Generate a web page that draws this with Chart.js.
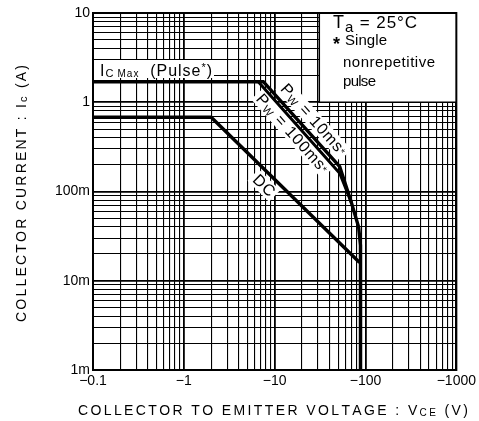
<!DOCTYPE html>
<html><head><meta charset="utf-8">
<script src="https://cdn.jsdelivr.net/npm/chart.js@4.4.1/dist/chart.umd.min.js"></script>
<style>html,body{margin:0;padding:0;background:#fff;}#wrap{width:479px;height:421px;}</style>
</head><body><div id="wrap"><canvas id="c" width="479" height="421"></canvas></div>
<script>
// ---- data (collector-emitter voltage in V, collector current in A) ----
const X_DECADES = [0.1, 1, 10, 100, 1000];
const X_TICK_LABELS = ['\u22120.1', '\u22121', '\u221210', '\u2212100', '\u22121000'];
const Y_DECADES = [0.001, 0.01, 0.1, 1, 10];
const Y_TICK_LABELS = ['1m', '10m', '100m', '1', '10'];
const MINOR_STEPS = [1, 2, 3, 4, 5, 6, 7, 8, 9];

const VCE_PULSE_10MS = [-0.1, -7.5, -52, -70, -84, -88, -88];
const IC_PULSE_10MS  = [1.7, 1.7, 0.19, 0.075, 0.04, 0.025, 0.001];
const VCE_PULSE_100MS = [-6.6, -52, -70];
const IC_PULSE_100MS  = [1.7, 0.16, 0.075];
const VCE_DC = [-0.1, -2.0, -86];
const IC_DC  = [0.68, 0.68, 0.016];

const FONT = '"Liberation Sans", Arial, Helvetica, sans-serif';

function pts(vs, is) { return vs.map((v, k) => ({ x: Math.abs(v), y: is[k] })); }
function gridTicks(decades) {
  const out = [];
  for (let d = 0; d < decades.length - 1; d++) MINOR_STEPS.forEach(m => out.push(+(decades[d] * m).toPrecision(6)));
  out.push(decades[decades.length - 1]);
  return out;
}
function decadeIndex(v, decades) {
  for (let k = 0; k < decades.length; k++) if (Math.abs(v / decades[k] - 1) < 1e-6) return k;
  return -1;
}

function drawRich(ctx, segs, x, y, opt) {
  const chars = [];
  segs.forEach(s => { for (const ch of s.t) chars.push({ ch, size: s.size, dy: s.dy || 0, bold: s.bold }); });
  let natural = 0;
  chars.forEach(c => { ctx.font = (c.bold ? 'bold ' : '') + c.size + 'px ' + FONT; c.w = ctx.measureText(c.ch).width; natural += c.w; });
  let sp = opt.spacing || 0;
  if (opt.width) sp = (opt.width - natural) / Math.max(1, chars.length - 1);
  const total = natural + sp * (chars.length - 1);
  let cx = opt.align === 'center' ? x - total / 2 : opt.align === 'right' ? x - total : x;
  ctx.textAlign = 'left'; ctx.textBaseline = 'alphabetic'; ctx.fillStyle = '#000';
  chars.forEach(c => { ctx.font = (c.bold ? 'bold ' : '') + c.size + 'px ' + FONT; ctx.fillText(c.ch, cx, y + c.dy); cx += c.w + sp; });
  return total;
}

function lineLabel(chart, vs, is, i0, t, offset, segs, width) {
  const xs = chart.scales.x, ys = chart.scales.y, ctx = chart.ctx;
  const ax = xs.getPixelForValue(Math.abs(vs[i0])), ay = ys.getPixelForValue(is[i0]);
  const bx = xs.getPixelForValue(Math.abs(vs[i0 + 1])), by = ys.getPixelForValue(is[i0 + 1]);
  const dx = bx - ax, dy = by - ay, len = Math.hypot(dx, dy);
  const ux = dx / len, uy = dy / len;
  const nx = uy, ny = -ux; // normal toward upper-right
  const cx = ax + dx * t + nx * offset, cy = ay + dy * t + ny * offset;
  ctx.save();
  ctx.translate(cx, cy);
  ctx.rotate(Math.atan2(dy, dx));
  ctx.fillStyle = '#fff';
  ctx.fillRect(-width / 2 - 3, -8, width + 6, 16);
  drawRich(ctx, segs, 0, 5, { align: 'center', width });
  ctx.restore();
}

const annot = {
  id: 'annot',
  beforeDatasetsDraw(chart) {
    const ctx = chart.ctx, a = chart.chartArea, xs = chart.scales.x, ys = chart.scales.y;
    ctx.save();
    // I_C max label box
    ctx.fillStyle = '#fff';
    ctx.fillRect(a.left, 60, 214 - a.left, 18);
    drawRich(ctx, [{ t: 'I', size: 16 }, { t: 'C', size: 11, dy: 1 }, { t: ' ', size: 8 }, { t: 'Max', size: 10, dy: 1 }, { t: '  (Pulse', size: 16 }, { t: '*', size: 11, dy: -5 }, { t: ')', size: 16 }], 100, 76, { width: 112 });
    // legend box
    const lx = xs.getPixelForValue(31), by = ys.getPixelForValue(1.0);
    ctx.fillStyle = '#fff';
    ctx.fillRect(lx, a.top, a.right - lx, by - a.top);
    ctx.strokeStyle = '#000'; ctx.lineWidth = 1.5;
    ctx.beginPath(); ctx.moveTo(lx, a.top); ctx.lineTo(lx, by); ctx.lineTo(a.right, by); ctx.stroke();
    drawRich(ctx, [{ t: 'T', size: 18 }, { t: 'a', size: 15, dy: 4 }, { t: ' = 25\u00b0C', size: 17 }], 333, 28, { width: 84 });
    drawRich(ctx, [{ t: '*', size: 18, bold: true }], 333, 50, {});
    drawRich(ctx, [{ t: 'Single', size: 15 }], 345, 45, { width: 42 });
    drawRich(ctx, [{ t: 'nonrepetitive', size: 15 }], 343, 67, { width: 92 });
    drawRich(ctx, [{ t: 'pulse', size: 15 }], 343, 86, { width: 33 });
    // line labels
    lineLabel(chart, VCE_PULSE_10MS, IC_PULSE_10MS, 1, 0.54, 12,
      [{ t: 'P', size: 16 }, { t: 'W', size: 11, dy: 2 }, { t: ' = 10ms', size: 16 }, { t: '*', size: 10, dy: -1 }], 90);
    lineLabel(chart, VCE_PULSE_100MS, IC_PULSE_100MS, 0, 0.5, -9,
      [{ t: 'P', size: 16 }, { t: 'W', size: 11, dy: 2 }, { t: ' = 100ms', size: 16 }, { t: '*', size: 10, dy: -1 }], 100);
    // DC label anchored on the DC slope
    const dcT = (Math.log10(9.4) - Math.log10(2.0)) / (Math.log10(86) - Math.log10(2.0));
    lineLabel(chart, VCE_DC, IC_DC, 1, dcT, -12, [{ t: 'DC', size: 16 }], 24);
    ctx.restore();
  },
  afterDatasetsDraw(chart) {
    const ctx = chart.ctx, a = chart.chartArea;
    ctx.save();
    ctx.strokeStyle = '#000'; ctx.lineWidth = 2;
    ctx.strokeRect(a.left, a.top, a.right - a.left, a.bottom - a.top);
    ctx.restore();
  },
  afterDraw(chart) {
    const ctx = chart.ctx;
    ctx.save();
    drawRich(ctx, [{ t: 'COLLECTOR TO EMITTER VOLTAGE : V', size: 14 }, { t: 'CE', size: 10, dy: 1 }, { t: ' (V)', size: 14 }], 273, 415, { align: 'center', width: 390 });
    ctx.translate(21, 193.5);
    ctx.rotate(-Math.PI / 2);
    drawRich(ctx, [{ t: 'COLLECTOR CURRENT : I', size: 14 }, { t: 'c', size: 11, dy: 1 }, { t: ' (A)', size: 14 }], 0, 5, { align: 'center', width: 257 });
    ctx.restore();
  }
};

const lineStyle = { borderColor: '#000', backgroundColor: '#000', pointRadius: 0, fill: false, tension: 0, borderJoinStyle: 'miter', borderCapStyle: 'butt' };

new Chart(document.getElementById('c'), {
  type: 'line',
  data: {
    datasets: [
      Object.assign({ label: 'Pw = 10ms', data: pts(VCE_PULSE_10MS, IC_PULSE_10MS), borderWidth: 3.4 }, lineStyle),
      Object.assign({ label: 'Pw = 100ms', data: pts(VCE_PULSE_100MS, IC_PULSE_100MS), borderWidth: 3 }, lineStyle),
      Object.assign({ label: 'DC', data: pts(VCE_DC, IC_DC), borderWidth: 3.4 }, lineStyle)
    ]
  },
  options: {
    responsive: false, animation: false, devicePixelRatio: 1,
    layout: { padding: { left: 0, top: 13, right: 19, bottom: 0 } },
    plugins: { legend: { display: false }, tooltip: { enabled: false }, title: { display: false } },
    scales: {
      x: {
        type: 'logarithmic', min: 0.1, max: 1000,
        afterBuildTicks: s => { s.ticks = gridTicks(X_DECADES).map(v => ({ value: v })); },
        afterFit: s => { s.height = 51; },
        grid: { color: '#000', lineWidth: c => (decadeIndex(c.tick.value, X_DECADES) >= 0 ? 1.8 : 1.1), drawTicks: false },
        border: { display: true, color: '#000', width: 2 },
        ticks: {
          autoSkip: false, maxRotation: 0, minRotation: 0, padding: 3, color: '#000',
          font: { family: FONT, size: 14 },
          callback: v => { const k = decadeIndex(v, X_DECADES); return k >= 0 ? X_TICK_LABELS[k] : ''; }
        }
      },
      y: {
        type: 'logarithmic', min: 0.001, max: 10,
        afterBuildTicks: s => { s.ticks = gridTicks(Y_DECADES).map(v => ({ value: v })); },
        afterFit: s => { s.width = 93; },
        grid: { color: '#000', lineWidth: c => (decadeIndex(c.tick.value, Y_DECADES) >= 0 ? 1.8 : 1.1), drawTicks: false },
        border: { display: true, color: '#000', width: 2 },
        ticks: {
          autoSkip: false, padding: 3, color: '#000',
          font: { family: FONT, size: 14 },
          callback: v => { const k = decadeIndex(v, Y_DECADES); return k >= 0 ? Y_TICK_LABELS[k] : ''; }
        }
      }
    }
  },
  plugins: [annot]
});
</script>
</body></html>
